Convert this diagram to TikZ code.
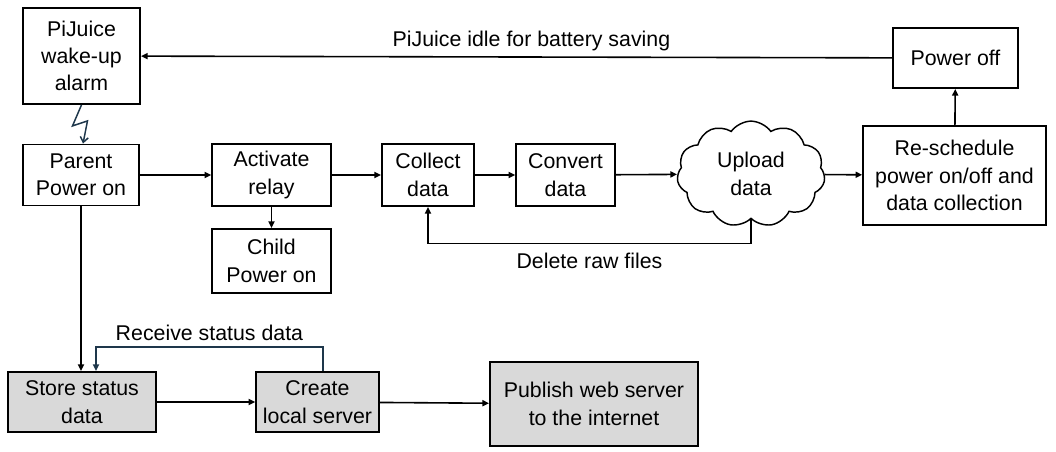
\documentclass[tikz,border=0pt]{standalone}
\usepackage{fontspec}
\setmainfont{Liberation Sans}
\usetikzlibrary{arrows.meta,shapes.symbols}
\definecolor{boltblue}{RGB}{30,55,75}
\definecolor{boxgray}{RGB}{217,217,217}
\tikzset{
  box/.style={draw,line width=1.4pt,align=center,inner sep=0pt,font=\fontsize{16}{20.5}\selectfont},
  graybox/.style={box,fill=boxgray},
  arr/.style={line width=1.2pt,-{Triangle[length=5pt,width=4.5pt]}},
  fb/.style={arr,draw=boltblue},
  bolt/.style={line width=1.1pt,draw=boltblue,-{Straight Barb[length=4pt,width=6pt]}},
  lbl/.style={font=\fontsize{16}{18}\selectfont}
}
\begin{document}
\begin{tikzpicture}[x=0.75pt,y=-0.75pt]
		\useasboundingbox (0,0) rectangle (1056,452);
		% top row
		\node[box,minimum width=87.75pt,minimum height=72pt] (wake) at (81.5,56) {PiJuice\\wake-up\\alarm};
		\node[box,minimum width=94pt,minimum height=45pt] (off) at (955.5,58) {Power off};
		% middle row
		\node[box,minimum width=87pt,minimum height=45.75pt] (parent) at (81,175) {Parent\\Power on};
		\node[box,minimum width=89pt,minimum height=46pt] (relay) at (271.5,175) {Activate\\relay};
		\node[box,minimum width=89pt,minimum height=48pt] (child) at (271.5,261) {Child\\Power on};
		\node[box,minimum width=69pt,minimum height=46.5pt] (collect) at (428,175) {Collect\\data};
		\node[box,minimum width=74pt,minimum height=46.5pt] (convert) at (565.5,175) {Convert\\data};
		\node[box,cloud,cloud puffs=11,cloud puff arc=110,line width=1.1pt,minimum width=111pt,minimum height=73pt] (upload) at (751,174) {Upload\\data};
		\node[box,minimum width=137pt,minimum height=74pt] (resched) at (954.5,175.5) {Re-schedule\\power on/off and\\data collection};
		% bottom row
		\node[graybox,minimum width=111pt,minimum height=45pt] (store) at (82,402) {Store status\\data};
		\node[graybox,minimum width=92pt,minimum height=45pt] (server) at (317.5,402) {Create\\local server};
		\node[graybox,minimum width=156pt,minimum height=63pt] (publish) at (594,404) {Publish web server\\to the internet};
		\coordinate (storein) at ([xshift=10.5pt]store.north);
		% connectors
		\draw[arr] (off) -- node[lbl,above=1pt,pos=0.48] {PiJuice idle for battery saving} (wake);
		\draw[bolt] (wake.south) -- ++(-9,21) -- ++(15,-5) -- ([xshift=1.5pt]parent.north);
		\draw[arr] (parent) -- (relay);
		\draw[arr] (relay) -- (child);
		\draw[arr] (relay) -- (collect);
		\draw[arr] (collect) -- (convert);
		\draw[arr] (convert) -- (upload);
		\draw[arr] (upload) -- (resched);
		\draw[arr] (resched) -- (off);
		\draw[arr] (upload.south) -- ++(0,24) coordinate (del) -- node[lbl,below=3pt] {Delete raw files} (del -| collect.south) -- (collect.south);
		\draw[arr] (parent.south) -- (parent.south |- store.north);
		\draw[fb] ([xshift=4pt]server.north) -- ++(0,-24) coordinate (rcv) -- node[lbl,above=1pt,text=black] {Receive status data} (rcv -| storein) -- (storein);
		\draw[arr] (store) -- (server);
		\draw[arr] (server) -- (publish);
\end{tikzpicture}
\end{document}
